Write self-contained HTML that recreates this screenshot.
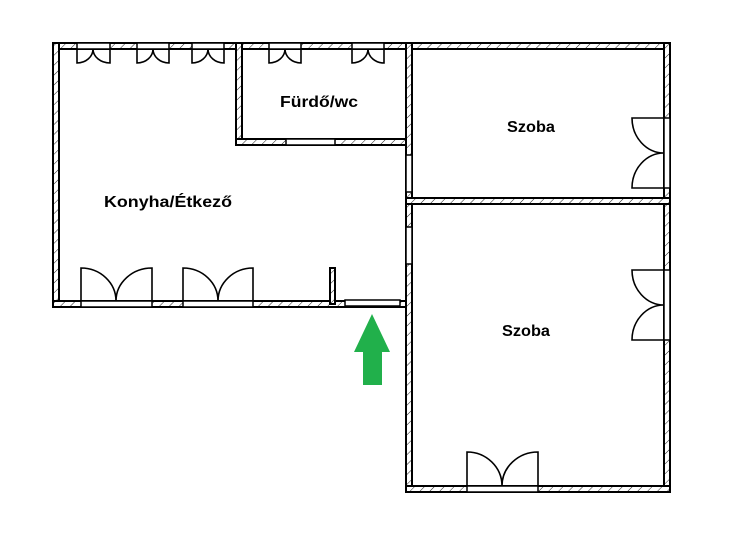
<!DOCTYPE html>
<html><head><meta charset="utf-8"><style>
html,body{margin:0;padding:0;background:#fff;width:730px;height:549px;overflow:hidden}
svg{display:block}
text{font-family:"Liberation Sans",sans-serif;font-weight:bold;font-size:16px;fill:#000}
</style></head><body>
<svg width="730" height="549" viewBox="0 0 730 549" xmlns="http://www.w3.org/2000/svg">
<defs>
<pattern id="h" width="7" height="7" patternUnits="userSpaceOnUse" patternTransform="rotate(45)">
<rect width="7" height="7" fill="#fff"/><line x1="0" y1="0" x2="0" y2="7" stroke="#222" stroke-width="1"/>
</pattern>
</defs>
<g fill="url(#h)" stroke="#000" stroke-width="2">
<rect x="53" y="43" width="617" height="6"/>
<rect x="53" y="43" width="6" height="264"/>
<rect x="53" y="301" width="359" height="6"/>
<rect x="236" y="43" width="6" height="102"/>
<rect x="236" y="139" width="172" height="6"/>
<rect x="406" y="43" width="6" height="449"/>
<rect x="664" y="43" width="6" height="449"/>
<rect x="406" y="198" width="264" height="6"/>
<rect x="406" y="486" width="264" height="6"/>
<rect x="330" y="268" width="5" height="36"/>
</g>
<g fill="#fff" stroke="#000" stroke-width="1.5">
<rect x="81" y="301" width="71" height="6"/>
<rect x="183" y="301" width="70" height="6"/>
<rect x="345" y="300" width="55" height="6"/>
<rect x="467" y="486" width="71" height="6"/>
<rect x="664" y="118" width="6" height="70"/>
<rect x="664" y="270" width="6" height="70"/>
<rect x="286" y="139" width="49" height="6"/>
<rect x="77" y="43" width="33" height="6"/>
<rect x="137" y="43" width="32" height="6"/>
<rect x="192" y="43" width="32" height="6"/>
<rect x="269" y="43" width="32" height="6"/>
<rect x="352" y="43" width="32" height="6"/>
<rect x="406" y="155" width="6" height="37"/>
<rect x="406" y="227" width="6" height="37"/>
</g>
<g fill="none" stroke="#000" stroke-width="1.6">
<path d="M81 301V268A35 33 0 0 1 116 301M152 301V268A36 33 0 0 0 116 301"/>
<path d="M183 301V268A35 33 0 0 1 218 301M253 301V268A35 33 0 0 0 218 301"/>
<path d="M467 486V452A35 34 0 0 1 502 486M538 486V452A36 34 0 0 0 502 486"/>
<path d="M664 118H632A32 35 0 0 0 664 153M664 188H632A32 35 0 0 1 664 153"/>
<path d="M664 270H632A32 35 0 0 0 664 305M664 340H632A32 35 0 0 1 664 305"/>
<path d="M77 49V63A16 14 0 0 0 93 49M110 49V63A17 14 0 0 1 93 49"/>
<path d="M137 49V63A16 14 0 0 0 153 49M169 49V63A16 14 0 0 1 153 49"/>
<path d="M192 49V63A16 14 0 0 0 208 49M224 49V63A16 14 0 0 1 208 49"/>
<path d="M269 49V63A16 14 0 0 0 285 49M301 49V63A16 14 0 0 1 285 49"/>
<path d="M352 49V63A16 14 0 0 0 368 49M384 49V63A16 14 0 0 1 368 49"/>
</g>
<polygon points="372,314 390,352 382,352 382,385 363,385 363,352 354,352" fill="#21b04b"/>
<text x="104" y="207" textLength="128" lengthAdjust="spacingAndGlyphs">Konyha/Étkező</text>
<text x="280" y="107" textLength="78" lengthAdjust="spacingAndGlyphs">Fürdő/wc</text>
<text x="507" y="132" textLength="48" lengthAdjust="spacingAndGlyphs">Szoba</text>
<text x="502" y="336" textLength="48" lengthAdjust="spacingAndGlyphs">Szoba</text>
</svg>
</body></html>
